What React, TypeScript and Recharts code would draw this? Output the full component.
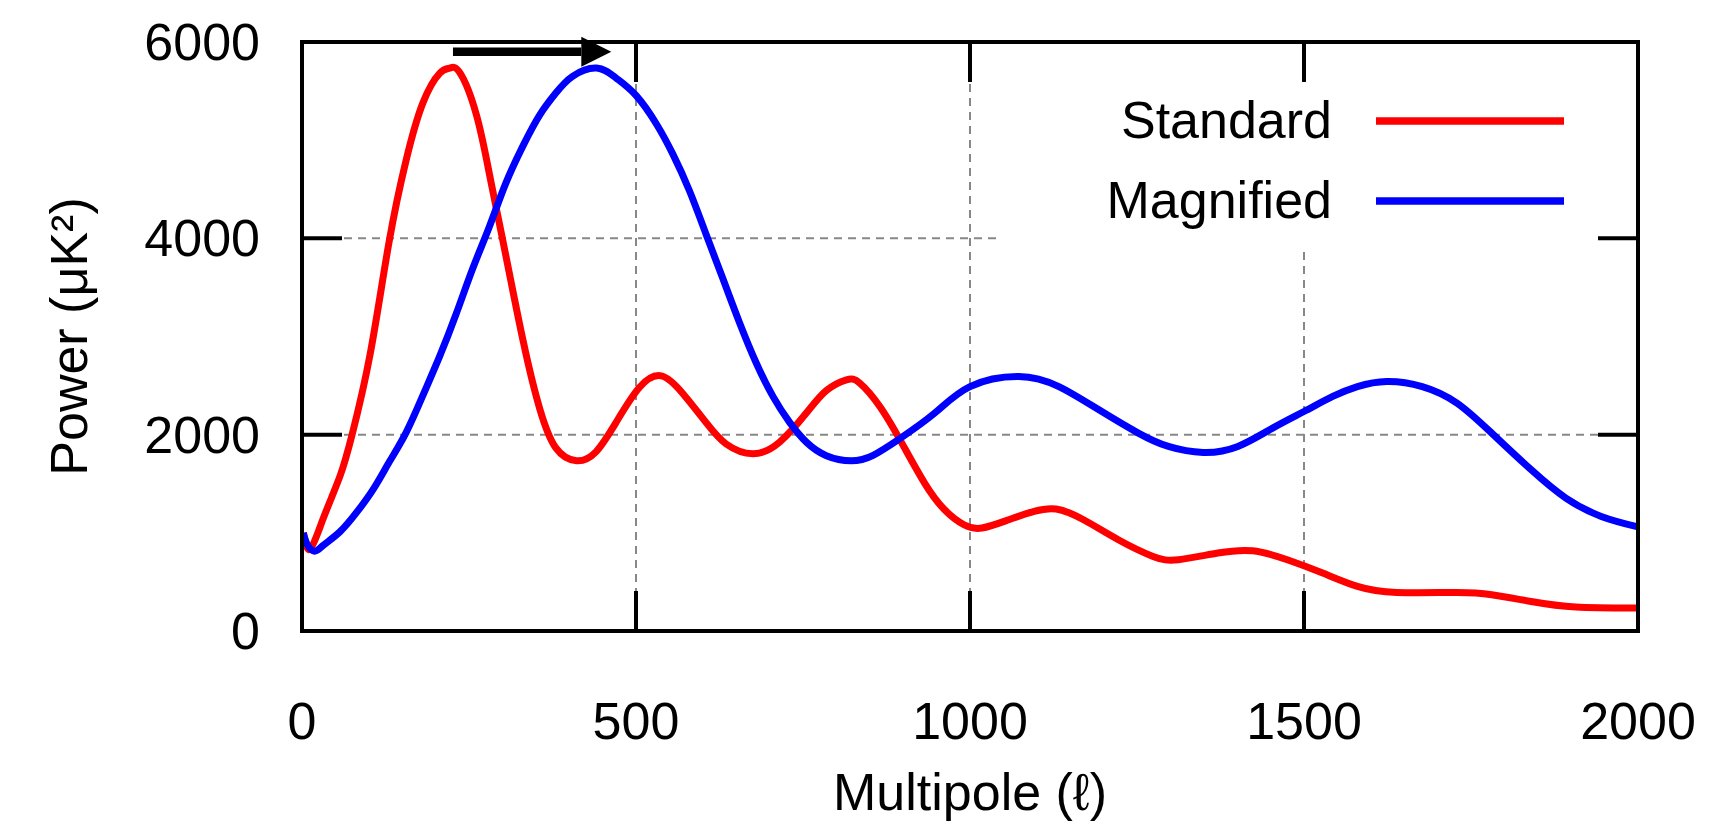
import { LineChart, Line, XAxis, YAxis, CartesianGrid, Legend, ReferenceLine } from 'recharts';

const FONT = '"Liberation Sans", Arial, Helvetica, sans-serif';

// multipole (ℓ) and power (μK²)
const standardL = [2, 12, 32, 57, 75, 102, 130, 156, 181, 206, 221, 236, 261, 281, 300, 331, 356, 380, 411, 440, 470, 505, 538, 570, 605, 635, 675, 715, 755, 785, 815, 835, 865, 898, 932, 962, 991, 1018, 1058, 1096, 1129, 1170, 1222, 1274, 1312, 1371, 1423, 1475, 1528, 1580, 1639, 1729, 1781, 1840, 1907, 2000];
const standardP = [1000, 833, 1150, 1580, 2000, 2820, 3950, 4800, 5380, 5680, 5734, 5690, 5260, 4640, 4000, 2956, 2262, 1865, 1734, 1825, 2123, 2480, 2599, 2420, 2123, 1905, 1805, 1924, 2220, 2450, 2559, 2525, 2287, 1914, 1507, 1235, 1082, 1049, 1133, 1218, 1242, 1133, 930, 760, 726, 794, 817, 726, 590, 454, 393, 393, 370, 301, 244, 234];

const magnifiedL = [2, 8, 19, 32, 57, 82, 107, 131, 156, 181, 206, 231, 256, 280, 305, 331, 356, 380, 405, 441, 470, 500, 531, 555, 580, 605, 630, 655, 680, 705, 730, 755, 785, 822, 855, 895, 947, 1000, 1073, 1133, 1193, 1252, 1297, 1349, 1401, 1453, 1500, 1543, 1580, 1624, 1677, 1729, 1781, 1840, 1892, 1945, 2000];
const magnifiedP = [1000, 880, 813, 873, 1012, 1210, 1448, 1726, 2024, 2400, 2797, 3234, 3700, 4110, 4560, 4945, 5258, 5480, 5650, 5734, 5634, 5456, 5160, 4860, 4485, 4040, 3590, 3140, 2730, 2390, 2125, 1924, 1786, 1734, 1790, 1960, 2219, 2490, 2593, 2490, 2253, 2016, 1880, 1819, 1880, 2067, 2236, 2389, 2490, 2542, 2490, 2322, 2016, 1643, 1354, 1167, 1060];

const seriesNames = ['Standard', 'Magnified'];

const xTicks = [0, 500, 1000, 1500, 2000];
const yTicks = [0, 2000, 4000, 6000];

// arrow from the standard peak over to the magnified peak
const arrowL = [226, 463];
const arrowP = 5900;

const toRows = (ls: number[], ps: number[]) => ls.map((l, i) => ({ l, p: ps[i] }));

const standardRows = toRows(standardL, standardP);
const magnifiedRows = toRows(magnifiedL, magnifiedP);

const frame = { stroke: '#000', strokeWidth: 4, strokeLinecap: 'square' as const };
const tickStroke = { stroke: '#000', strokeWidth: 4 };

const XTick = ({ x, y, payload }: any) => (
  <text x={x} y={y + 148} textAnchor="middle" fontSize={52} fontFamily={FONT} fill="#000">
    {payload.value}
  </text>
);

const YTick = ({ x, y, payload }: any) => (
  <text x={x - 82} y={y + 18} textAnchor="end" fontSize={52} fontFamily={FONT} fill="#000">
    {payload.value}
  </text>
);

// mirrored axes: tick marks only, no labels
const NoLabel = () => <g />;

const Arrow = ({ x1, y1, x2, y2 }: any) => {
  const head = 30;
  return (
    <g>
      <line x1={x1} y1={y1} x2={x2 - head} y2={y2} stroke="#000" strokeWidth={8.5} />
      <polygon points={`${x2 - head},${y2 - 15} ${x2},${y2} ${x2 - head},${y2 + 15}`} fill="#000" />
    </g>
  );
};

// opaque key box, like gnuplot's: hides the grid behind it
const KeyBox = ({ payload }: any) => {
  const items = [...(payload || [])].sort(
    (a: any, b: any) => seriesNames.indexOf(a.value) - seriesNames.indexOf(b.value)
  );
  return (
    <svg width={596} height={166} style={{ display: 'block', background: '#fff' }}>
      {items.map((entry: any, i: number) => {
        const cy = 37 + i * 80;
        return (
          <g key={entry.value}>
            <text x={330} y={cy + 17} textAnchor="end" fontSize={52} fontFamily={FONT} fill="#000">
              {entry.value}
            </text>
            <line x1={374} x2={562} y1={cy} y2={cy} stroke={entry.color} strokeWidth={7.5} />
          </g>
        );
      })}
    </svg>
  );
};

export default function App() {
  return (
    <div style={{ position: 'absolute', left: 0, top: 0, width: 1711, height: 822, background: '#fff' }}>
      <LineChart width={1711} height={822} margin={{ top: 41, right: 72, bottom: 0, left: 0 }}>
        <CartesianGrid stroke="#888" strokeWidth={2} strokeDasharray="8 6" />
        <XAxis
          dataKey="l"
          type="number"
          domain={[0, 2000]}
          ticks={xTicks}
          interval={0}
          height={191}
          tickSize={-40}
          tickMargin={0}
          axisLine={frame}
          tickLine={tickStroke}
          tick={<XTick />}
          label={{
            content: ({ viewBox }: any) => (
              <text x={viewBox.x + viewBox.width / 2} y={viewBox.y + 179} textAnchor="middle" fontSize={52} fontFamily={FONT} fill="#000">
                Multipole (ℓ)
              </text>
            ),
          }}
        />
        <XAxis
          xAxisId="top"
          orientation="top"
          dataKey="l"
          type="number"
          scale="linear"
          domain={[0, 2000]}
          allowDataOverflow
          ticks={xTicks}
          interval={0}
          height={1}
          tickSize={-40}
          axisLine={frame}
          tickLine={tickStroke}
          tick={<NoLabel />}
        />
        <YAxis
          type="number"
          domain={[0, 6000]}
          ticks={yTicks}
          interval={0}
          width={302}
          tickSize={-40}
          tickMargin={0}
          axisLine={frame}
          tickLine={tickStroke}
          tick={<YTick />}
          label={{
            content: ({ viewBox }: any) => {
              const cy = viewBox.y + viewBox.height / 2;
              return (
                <text x={87} y={cy} transform={`rotate(-90, 87, ${cy})`} textAnchor="middle" fontSize={52} fontFamily={FONT} fill="#000">
                  Power (μK²)
                </text>
              );
            },
          }}
        />
        <YAxis
          yAxisId="right"
          orientation="right"
          type="number"
          scale="linear"
          domain={[0, 6000]}
          allowDataOverflow
          ticks={yTicks}
          interval={0}
          width={1}
          tickSize={-40}
          axisLine={frame}
          tickLine={tickStroke}
          tick={<NoLabel />}
        />
        <Legend
          content={<KeyBox />}
          layout="horizontal"
          verticalAlign="middle"
          align="center"
          wrapperStyle={{ left: 1002, top: 84, width: 596, height: 166 }}
        />
        <Line
          data={standardRows}
          dataKey="p"
          name="Standard"
          type="natural"
          stroke="#ff0000"
          strokeWidth={7}
          dot={false}
          isAnimationActive={false}
        />
        <Line
          data={magnifiedRows}
          dataKey="p"
          name="Magnified"
          type="natural"
          stroke="#0000ff"
          strokeWidth={7}
          dot={false}
          isAnimationActive={false}
        />
        <ReferenceLine
          segment={[{ x: arrowL[0], y: arrowP }, { x: arrowL[1], y: arrowP }]}
          shape={<Arrow />}
        />
      </LineChart>
    </div>
  );
}
